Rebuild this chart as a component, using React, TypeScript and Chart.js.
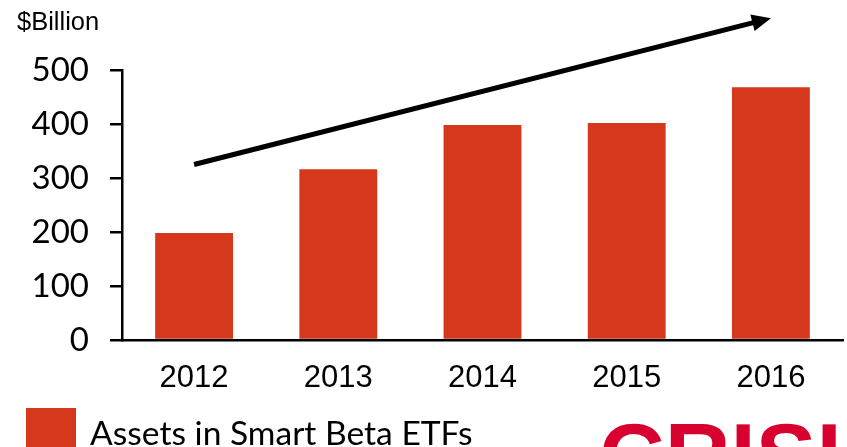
import { useEffect, useRef } from "react";
import { Chart, registerables } from "chart.js";

Chart.register(...registerables);

// ---- Data ----
const categories = ["2012", "2013", "2014", "2015", "2016"];
const assetsValues = [198, 316, 398, 402, 468];
const seriesLabel = "Assets in Smart Beta ETFs";
const yMin = 0;
const yMax = 500;
const yStep = 100;
const unitLabel = "$Billion";
const logoText = "CRISIL";
// trend arrow in data coordinates: [category index, value]
const arrowFrom = [0, 325];
const arrowTo = [4, 596];

const BAR_COLOR = "#D5381A";
const LOGO_COLOR = "#D7002E";

const overlayPlugin = {
  id: "overlay",
  afterDraw(chart: any) {
    const ctx = chart.ctx as CanvasRenderingContext2D;
    const xs = chart.scales.x;
    const ys = chart.scales.y;
    ctx.save();

    // Trend arrow
    const x1 = xs.getPixelForValue(arrowFrom[0]);
    const y1 = ys.getPixelForValue(arrowFrom[1]);
    const x2 = xs.getPixelForValue(arrowTo[0]);
    const y2 = ys.getPixelForValue(arrowTo[1]);
    const ang = Math.atan2(y2 - y1, x2 - x1);
    const headLen = 19;
    const headHalf = 8.5;
    const bx = x2 - headLen * Math.cos(ang);
    const by = y2 - headLen * Math.sin(ang);
    ctx.strokeStyle = "#000";
    ctx.lineWidth = 5;
    ctx.lineCap = "butt";
    ctx.beginPath();
    ctx.moveTo(x1, y1);
    ctx.lineTo(bx + 2 * Math.cos(ang), by + 2 * Math.sin(ang));
    ctx.stroke();
    ctx.fillStyle = "#000";
    ctx.beginPath();
    ctx.moveTo(x2, y2);
    ctx.lineTo(bx + headHalf * Math.sin(ang), by - headHalf * Math.cos(ang));
    ctx.lineTo(bx - headHalf * Math.sin(ang), by + headHalf * Math.cos(ang));
    ctx.closePath();
    ctx.fill();

    // Unit label
    ctx.fillStyle = "#000";
    ctx.font = '25.5px "Liberation Sans", Arial, sans-serif';
    ctx.textAlign = "left";
    ctx.textBaseline = "alphabetic";
    ctx.fillText(unitLabel, 17, 29.5);

    // Legend
    ctx.fillStyle = BAR_COLOR;
    ctx.fillRect(26, 408, 50, 40);
    ctx.fillStyle = "#000";
    ctx.font = '33.6px Lato, "Open Sans", sans-serif';
    ctx.fillText(chart.data.datasets[0].label, 90, 445);

    // Logo text (cut off at bottom)
    ctx.fillStyle = LOGO_COLOR;
    ctx.font = 'bold 91px "Liberation Sans", Arial, sans-serif';
    ctx.fillText(logoText, 599, 487);

    ctx.restore();
  },
};

export default function App() {
  const canvasRef = useRef<HTMLCanvasElement | null>(null);

  useEffect(() => {
    if (!canvasRef.current) return;
    const chart = new Chart(canvasRef.current, {
      type: "bar",
      data: {
        labels: categories,
        datasets: [
          {
            label: seriesLabel,
            data: assetsValues,
            backgroundColor: BAR_COLOR,
            borderWidth: 0,
            barPercentage: 0.54,
            categoryPercentage: 1,
          },
        ],
      },
      options: {
        responsive: false,
        animation: false,
        events: [],
        layout: { padding: { left: 0, right: 4, top: 70, bottom: 0 } },
        plugins: {
          legend: { display: false },
          tooltip: { enabled: false },
          title: { display: false },
        },
        scales: {
          x: {
            afterFit: (s: any) => {
              s.height = 107;
            },
            grid: { display: false, drawTicks: false },
            border: { display: true, color: "#000", width: 2.5 },
            ticks: {
              color: "#000",
              padding: 20,
              font: { family: '"Liberation Sans", Arial, sans-serif', size: 31 },
            },
          },
          y: {
            min: yMin,
            max: yMax,
            afterFit: (s: any) => {
              s.width = 122;
            },
            grid: {
              display: true,
              drawOnChartArea: false,
              drawTicks: true,
              tickLength: 12,
              color: "#000",
              lineWidth: 2.5,
            },
            border: { display: true, color: "#000", width: 2.5 },
            ticks: {
              stepSize: yStep,
              color: "#000",
              padding: 21,
              font: { family: 'Lato, "Open Sans", sans-serif', size: 33 },
            },
          },
        },
      },
      plugins: [overlayPlugin],
    });
    return () => chart.destroy();
  }, []);

  return (
    <div style={{ position: "absolute", left: 0, top: 0, width: 847, height: 447, background: "#fff" }}>
      <canvas ref={canvasRef} width={847} height={447} />
    </div>
  );
}
